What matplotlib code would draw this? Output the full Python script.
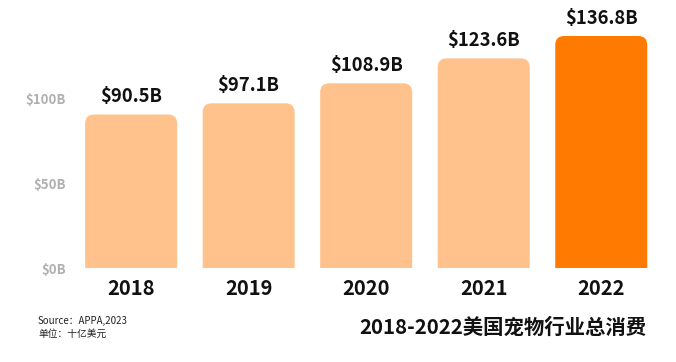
import matplotlib
matplotlib.use("Agg")
import matplotlib.pyplot as plt
from matplotlib.patches import FancyBboxPatch

plt.rcParams['font.family'] = ['Noto Sans CJK SC', 'DejaVu Sans']

years = ["2018", "2019", "2020", "2021", "2022"]
values = [90.5, 97.1, 108.9, 123.6, 136.8]
value_labels = ["$90.5B", "$97.1B", "$108.9B", "$123.6B", "$136.8B"]
ytick_vals = [0, 50, 100]
ytick_labels = ["$0B", "$50B", "$100B"]
colors = ["#FFC28C", "#FFC28C", "#FFC28C", "#FFC28C", "#FF7A00"]

W, H = 676, 362
fig = plt.figure(figsize=(W / 100, H / 100), dpi=100)
left, right, top, bottom = 70, 660, 20, 268
ax = fig.add_axes([left / W, 1 - bottom / H, (right - left) / W, (bottom - top) / H])
xlim = (-0.52, 4.5)
ymax = (bottom - top) / 1.696
ax.set_xlim(*xlim)
ax.set_ylim(0, ymax)

px_x = (right - left) / (xlim[1] - xlim[0])
px_y = (bottom - top) / ymax
bw = 92 / px_x
r = 9 / px_x
aspect = px_x / px_y
for i, (v, c) in enumerate(zip(values, colors)):
    p = FancyBboxPatch((i - bw / 2, -15), bw, v + 15,
                       boxstyle=f"round,pad=0,rounding_size={r}",
                       mutation_aspect=aspect, fc=c, ec="none", clip_on=True)
    ax.add_patch(p)
    ax.text(i, v + 5.0, value_labels[i], ha="center", va="bottom",
            fontsize=13.3, fontweight="bold", color="#111111")

ax.set_xticks(range(len(years)))
ax.set_xticklabels(years, fontsize=14.5, fontweight="bold", color="#111111")
ax.tick_params(axis="x", length=0, pad=7)
ax.set_yticks(ytick_vals)
ax.set_yticklabels(ytick_labels, fontsize=9.5, fontweight="bold", color="#B0B0B0")
ax.tick_params(axis="y", length=0, pad=3)
for s in ax.spines.values():
    s.set_visible(False)

fig.text(38 / W, 1 - 321 / H, "Source：APPA,2023", fontsize=7, color="#222222", va="center")
fig.text(38 / W, 1 - 334 / H, "单位：十亿美元", fontsize=7, color="#222222", va="center")
fig.text(646 / W, 1 - 327 / H, "2018-2022美国宠物行业总消费", fontsize=14.7,
         fontweight="bold", color="#111111", ha="right", va="center")

fig.savefig("out.png", dpi=100)
